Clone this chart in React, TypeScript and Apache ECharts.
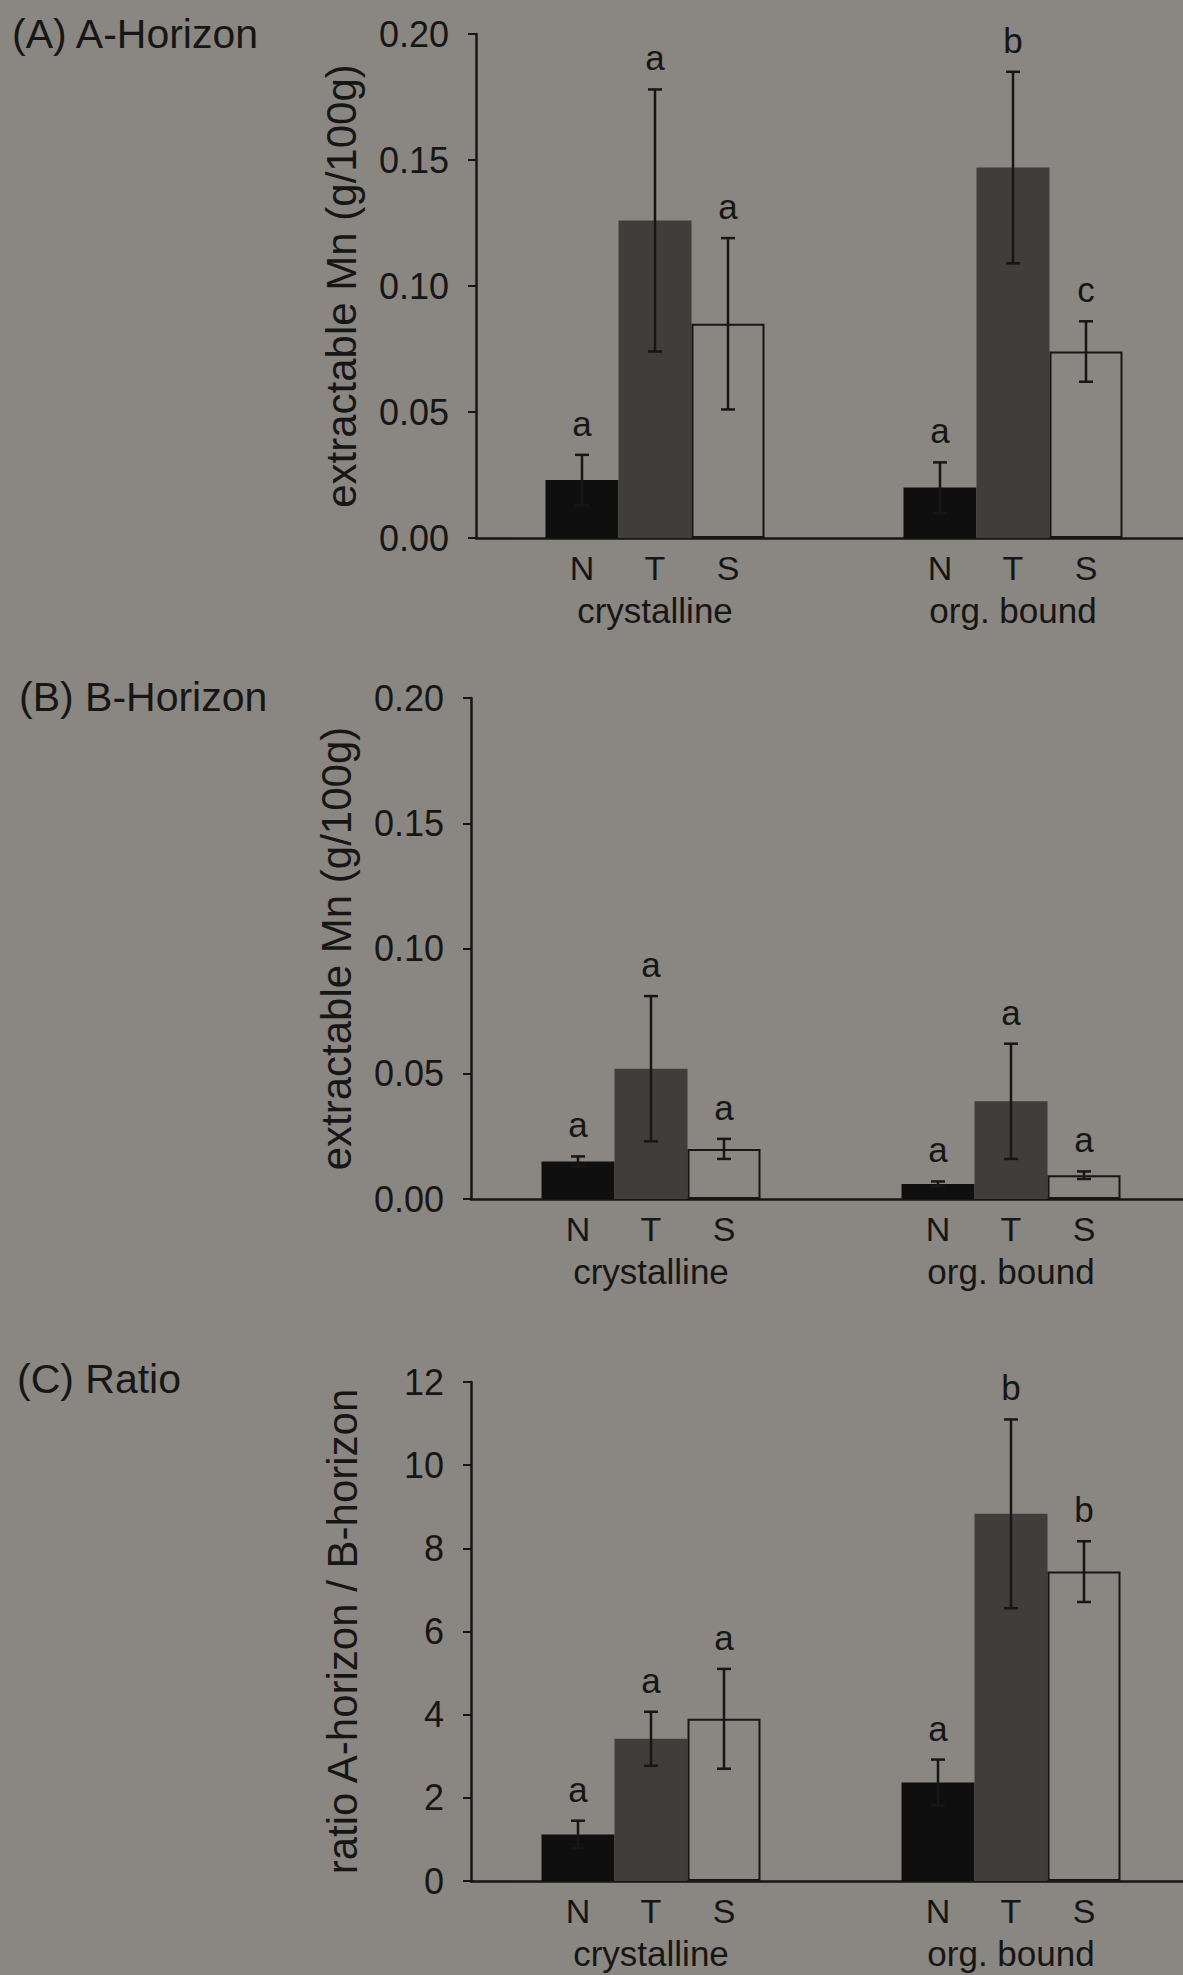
import React, { useEffect, useRef } from "react";
import * as echarts from "echarts";

// Soil fractions on the category axis and the three site treatments
const groups = ["crystalline", "org. bound"];
const treatments = ["N", "T", "S"];

// (A) A-horizon, extractable Mn (g/100g); rows = fraction, columns = N, T, S
const aMeans = [
  [0.023, 0.126, 0.085],
  [0.02, 0.147, 0.074],
];
const aErrors = [
  [0.01, 0.052, 0.034],
  [0.01, 0.038, 0.012],
];
const aLetters = [
  ["a", "a", "a"],
  ["a", "b", "c"],
];

// (B) B-horizon, extractable Mn (g/100g)
const bMeans = [
  [0.015, 0.052, 0.02],
  [0.006, 0.039, 0.0095],
];
const bErrors = [
  [0.002, 0.029, 0.004],
  [0.001, 0.023, 0.0015],
];
const bLetters = [
  ["a", "a", "a"],
  ["a", "a", "a"],
];

// (C) ratio A-horizon / B-horizon
const cMeans = [
  [1.12, 3.42, 3.9],
  [2.37, 8.83, 7.44],
];
const cErrors = [
  [0.33, 0.65, 1.2],
  [0.55, 2.27, 0.73],
];
const cLetters = [
  ["a", "a", "a"],
  ["a", "b", "b"],
];

// Axis ranges: [min, max, interval]
const mnRange = [0, 0.2, 0.05];
const ratioRange = [0, 12, 2];

const panelTitles = ["(A) A-Horizon", "(B) B-Horizon", "(C) Ratio"];
const yNames = [
  "extractable Mn (g/100g)",
  "extractable Mn (g/100g)",
  "ratio A-horizon / B-horizon",
];

// ---- styling ----
const FONT = "'Liberation Sans', Arial, Helvetica, sans-serif";
const BG = "#8a8681";
const INK = "#161616";
const BAR_W = 73;
const barFills = ["#0f0f0f", "#403e3c", BG];

const grids = [
  { left: 476, top: 34, width: 716, height: 504 },
  { left: 471, top: 698, width: 720, height: 501 },
  { left: 471, top: 1382, width: 720, height: 501 },
];
const TITLE_SIZE = 41;
const titleTops = [13, 676, 1358];
const titleLefts = [12, 19, 17];
const nameGaps = [114, 114, 108];

function buildOption() {
  const panels = [
    { means: aMeans, errors: aErrors, letters: aLetters, range: mnRange, digits: 2 },
    { means: bMeans, errors: bErrors, letters: bLetters, range: mnRange, digits: 2 },
    { means: cMeans, errors: cErrors, letters: cLetters, range: ratioRange, digits: 0 },
  ];

  const xAxis: any[] = [];
  const yAxis: any[] = [];
  const series: any[] = [];

  panels.forEach((p, pi) => {
    xAxis.push({
      type: "category",
      gridIndex: pi,
      data: groups,
      axisLine: { show: true, lineStyle: { color: INK, width: 2.5 } },
      axisTick: { show: false },
      axisLabel: {
        interval: 0,
        margin: 8,
        color: INK,
        fontFamily: FONT,
        lineHeight: 43,
        formatter: (v: string) =>
          treatments.map((t) => `{t|${t}}`).join("") + `\n{g|${v}}`,
        rich: {
          t: { width: BAR_W, align: "center", fontSize: 34, fontFamily: FONT, color: INK, lineHeight: 43 },
          g: { fontSize: 35, fontFamily: FONT, color: INK, lineHeight: 43 },
        },
      },
      splitLine: { show: false },
    });

    yAxis.push({
      type: "value",
      gridIndex: pi,
      min: p.range[0],
      max: p.range[1],
      interval: p.range[2],
      axisLine: { show: true, lineStyle: { color: INK, width: 2.5 } },
      axisTick: { show: true, inside: false, length: 8, lineStyle: { color: INK, width: 2 } },
      axisLabel: {
        margin: 27,
        color: INK,
        fontSize: 36,
        fontFamily: FONT,
        formatter: (v: number) => v.toFixed(p.digits),
      },
      splitLine: { show: false },
      name: yNames[pi],
      nameLocation: "middle",
      nameRotate: 90,
      nameGap: nameGaps[pi],
      nameTextStyle: { color: INK, fontSize: 42, fontFamily: FONT },
    });

    treatments.forEach((t, ti) => {
      series.push({
        type: "bar",
        name: t,
        xAxisIndex: pi,
        yAxisIndex: pi,
        barWidth: BAR_W,
        barGap: "0%",
        data: groups.map((_, gi) => p.means[gi][ti]),
        itemStyle: {
          color: barFills[ti],
          borderColor: ti === 2 ? INK : barFills[ti],
          borderWidth: ti === 2 ? 2 : 0,
        },
        z: 2,
      });
    });

    // Error bars (mean ± error) and significance letters
    const errData: number[][] = [];
    const flatLetters: string[] = [];
    groups.forEach((_, gi) => {
      treatments.forEach((_, ti) => {
        errData.push([gi, p.means[gi][ti], p.errors[gi][ti], ti]);
        flatLetters.push(p.letters[gi][ti]);
      });
    });

    series.push({
      type: "custom",
      xAxisIndex: pi,
      yAxisIndex: pi,
      z: 5,
      encode: { x: 0, y: 1 },
      data: errData,
      renderItem: (params: any, api: any) => {
        const cat = api.value(0);
        const m = api.value(1);
        const e = api.value(2);
        const slot = api.value(3);
        const center = api.coord([cat, m]);
        const x = center[0] + (slot - 1) * BAR_W;
        const yTop = api.coord([cat, m + e])[1];
        const yBot = api.coord([cat, Math.max(m - e, 0)])[1];
        const cap = 7;
        const ls = { stroke: INK, lineWidth: 2.5 };
        return {
          type: "group",
          children: [
            { type: "line", shape: { x1: x, y1: yTop, x2: x, y2: yBot }, style: ls },
            { type: "line", shape: { x1: x - cap, y1: yTop, x2: x + cap, y2: yTop }, style: ls },
            { type: "line", shape: { x1: x - cap, y1: yBot, x2: x + cap, y2: yBot }, style: ls },
            {
              type: "text",
              style: {
                text: flatLetters[params.dataIndex],
                x: x,
                y: yTop - 14,
                fill: INK,
                fontSize: 35,
                fontFamily: FONT,
                align: "center",
                verticalAlign: "bottom",
              },
            },
          ],
        };
      },
    });
  });

  return {
    animation: false,
    backgroundColor: BG,
    title: panelTitles.map((text, i) => ({
      text,
      left: titleLefts[i],
      top: titleTops[i],
      padding: 0,
      textStyle: { color: INK, fontSize: TITLE_SIZE, fontWeight: "normal", fontFamily: FONT },
    })),
    grid: grids,
    xAxis,
    yAxis,
    series,
  };
}

export default function App() {
  const ref = useRef<HTMLDivElement>(null);

  useEffect(() => {
    if (!ref.current) return;
    const chart = echarts.init(ref.current, undefined, { renderer: "svg" });
    chart.setOption(buildOption() as any);
    return () => chart.dispose();
  }, []);

  return (
    <div
      style={{
        position: "absolute",
        left: 0,
        top: 0,
        width: 1183,
        height: 1975,
        overflow: "hidden",
        background: BG,
      }}
    >
      <div ref={ref} style={{ width: 1200, height: 1975 }} />
    </div>
  );
}
